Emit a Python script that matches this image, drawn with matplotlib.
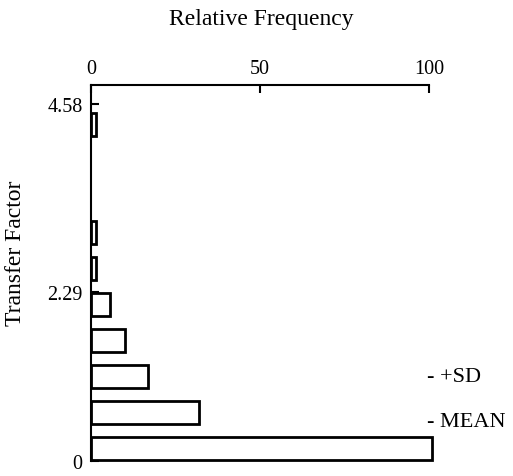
import matplotlib.pyplot as plt
import numpy as np

# datos
ancho_clase = 0.458
frecuencias = [101, 32, 17, 10, 5.5, 1.5, 1.5, 0, 0, 1.5]  # frecuencia relativa por clase
marcas_y = [0, 2.15, 4.54]  # posicion de las marcas tal como aparecen
etiquetas_y = ["0", "2.29", "4.58"]
marcas_x = [0, 50, 100]
media = 0.50
media_mas_sd = 1.07

plt.rcParams['font.family'] = ['Liberation Serif', 'DejaVu Serif']

fig = plt.figure(figsize=(5.13, 4.77), dpi=100)
ax = fig.add_axes([0.1774, 0.0314, 0.6589, 0.7883])

frec = np.array(frecuencias)
bordes = np.arange(len(frec)) * ancho_clase
hay = frec > 0  # las clases vacias no se dibujan
ax.barh(bordes[hay] + 0.03 * ancho_clase, frec[hay], height=0.64 * ancho_clase, align='edge',
        color='white', edgecolor='black', linewidth=2, clip_on=False)

ax.set_xlim(0, 100)
ax.set_ylim(0, 4.78)

ax.spines['right'].set_visible(False)
ax.spines['bottom'].set_visible(False)
ax.spines['top'].set_linewidth(1.5)
ax.spines['left'].set_linewidth(1.5)

ax.xaxis.tick_top()
ax.xaxis.set_label_position('top')
ax.set_xticks(marcas_x)
ax.set_yticks(marcas_y)
ax.set_yticklabels(etiquetas_y)
ax.tick_params(axis='both', direction='in', length=6, width=1.5, labelsize=14.5)
ax.tick_params(axis='x', pad=5)
ax.tick_params(axis='y', pad=6)

ax.set_xlabel("Relative Frequency", fontsize=17)
ax.xaxis.set_label_coords(0.503, 1.176)
ax.xaxis.label.set_va('center')
ax.set_ylabel("Transfer Factor", fontsize=17)
ax.yaxis.set_label_coords(-0.222, 0.556)
ax.yaxis.label.set_va('center')

# marcas de la media y +SD a la derecha
ax.text(99.5, media, "- MEAN", fontsize=16, va='center', ha='left')
ax.text(99.5, media_mas_sd, "- +SD", fontsize=16, va='center', ha='left')

plt.savefig("out.png", dpi=100)
